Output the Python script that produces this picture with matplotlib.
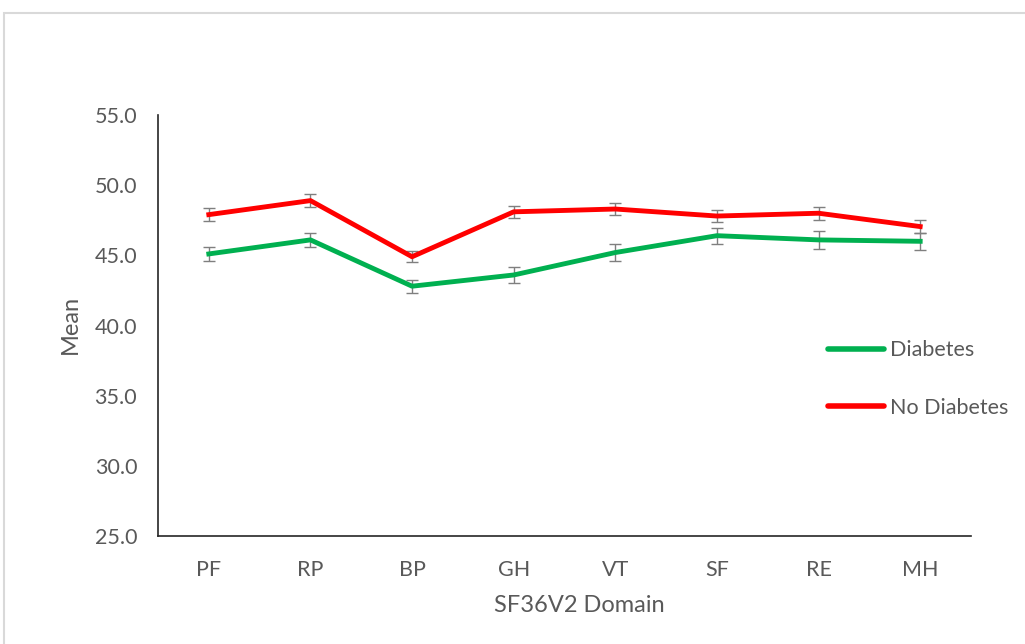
import matplotlib
matplotlib.use("Agg")
import matplotlib.pyplot as plt
from matplotlib.patches import Rectangle
from matplotlib.lines import Line2D

categories = ["PF", "RP", "BP", "GH", "VT", "SF", "RE", "MH"]
diabetes = [45.1, 46.1, 42.8, 43.6, 45.2, 46.4, 46.1, 46.0]
diabetes_err = [0.52, 0.52, 0.45, 0.55, 0.58, 0.57, 0.62, 0.6]
no_diabetes = [47.9, 48.9, 44.9, 48.1, 48.3, 47.8, 48.0, 47.05]
no_diabetes_err = [0.44, 0.44, 0.4, 0.45, 0.4, 0.42, 0.46, 0.46]
yticks = [25.0, 30.0, 35.0, 40.0, 45.0, 50.0, 55.0]

W, H = 1025, 644
plt.rcParams['font.family'] = ['Lato', 'DejaVu Sans']
fig = plt.figure(figsize=(W / 100, H / 100), dpi=100)
fig.patch.set_facecolor("white")
fig.patches.append(Rectangle((4 / W, -0.1), 1.2, 1 - 13 / H + 0.1, transform=fig.transFigure,
                             fill=False, edgecolor="#d9d9d9", linewidth=1.5))

ax = fig.add_axes([158 / W, 1 - 536 / H, (971 - 158) / W, (536 - 115) / H])
x = list(range(len(categories)))
txt = "#595959"

ax.errorbar(x, diabetes, yerr=diabetes_err, color="#00B050", linewidth=3.5,
            ecolor="#7f7f7f", elinewidth=1.0, capsize=4.5, capthick=1.0, label="Diabetes", zorder=3)
ax.errorbar(x, no_diabetes, yerr=no_diabetes_err, color="#FF0000", linewidth=3.5,
            ecolor="#7f7f7f", elinewidth=1.0, capsize=4.5, capthick=1.0, label="No Diabetes", zorder=3)

ax.set_xlim(-0.5, len(categories) - 0.5)
ax.set_ylim(25, 55)
ax.set_yticks(yticks)
ax.set_yticklabels([f"{v:.1f}" for v in yticks])
ax.set_xticks(x)
ax.set_xticklabels(categories)
ax.tick_params(axis="both", length=0, labelsize=15.5, colors=txt)
ax.tick_params(axis="y", pad=15)
ax.tick_params(axis="x", pad=17)
for s in ["top", "right"]:
    ax.spines[s].set_visible(False)
for s in ["left", "bottom"]:
    ax.spines[s].set_color("#262626")
    ax.spines[s].set_linewidth(1.2)

fig.text(70 / W, 1 - 324 / H, "Mean", rotation=90, ha="center", va="center", fontsize=17, color=txt)
fig.text(579 / W, 1 - 605 / H, "SF36V2 Domain", ha="center", va="center", fontsize=17, color=txt)

h2 = [Line2D([0], [0], color="#00B050", lw=4, solid_capstyle="round"),
      Line2D([0], [0], color="#FF0000", lw=4, solid_capstyle="round")]
leg = fig.legend(h2, ["Diabetes", "No Diabetes"], loc="center left",
                 bbox_to_anchor=(828 / W, 1 - 379 / H), frameon=False, fontsize=15.5,
                 handlelength=2.6, handletextpad=0.3, labelspacing=1.75,
                 borderpad=0, borderaxespad=0)
for t in leg.get_texts():
    t.set_color(txt)

fig.savefig("out.png", dpi=100, facecolor="white")
